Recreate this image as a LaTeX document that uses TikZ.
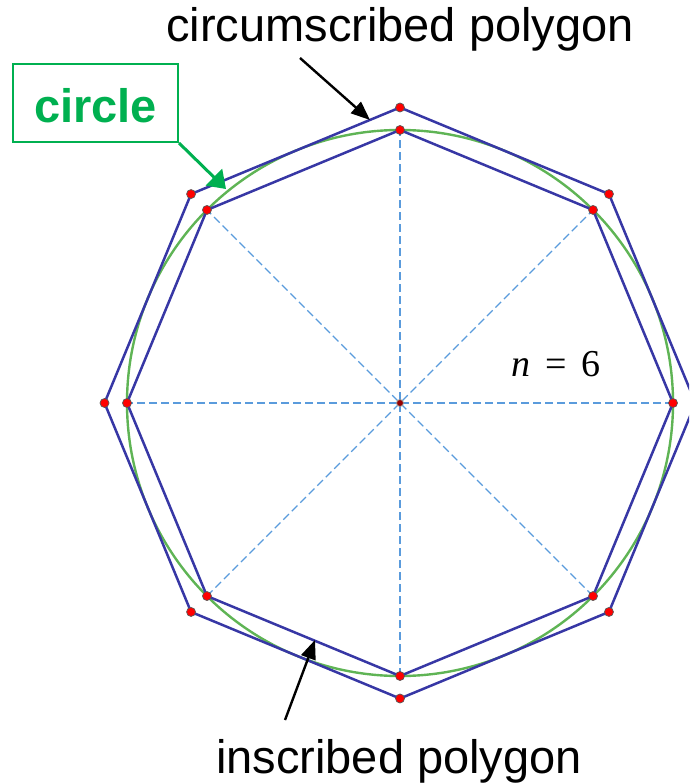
\documentclass[tikz,border=0pt]{standalone}
\usepackage{fontspec}
\setmainfont{Liberation Sans}
\newfontfamily\timesfont{Liberation Serif}
\usetikzlibrary{arrows.meta,calc}
\definecolor{polyblue}{RGB}{55,55,165}
\definecolor{circgreen}{RGB}{95,180,85}
\definecolor{boxgreen}{RGB}{0,176,80}
\definecolor{rayblue}{RGB}{90,155,220}
\tikzset{
  poly/.style={polyblue,line width=2.5pt,line join=round},
  ray/.style={rayblue,line width=1.1pt,dash pattern=on 8pt off 4pt},
  vdot/.style={fill=red,draw=black!65,line width=0.7pt},
  lbl/.style={font=\fontsize{47}{50}\selectfont,inner sep=0pt,anchor=base},
  pointer/.style={black,line width=2.4pt,-{Triangle[length=19pt,width=15pt]}}
}

\begin{document}
\begin{tikzpicture}[x=1pt,y=-1pt]
  \useasboundingbox (0,0) rectangle (689,783);
  \clip (0,0) rectangle (689,783);
  \coordinate (C) at (400,403);
  \foreach \k in {0,...,7}
    {\coordinate (i\k) at ($(C)+(\k*45:273)$);
     \coordinate (o\k) at ($(C)+(\k*45:295.5)$);}
  % dashed diameters
  \foreach \k in {0,...,3}
    {\pgfmathtruncatemacro\j{\k+4}
     \draw[ray] (i\k) -- (i\j);}
  \draw[circgreen,line width=2.4pt] (C) circle (273pt);
  \draw[poly] (i0) \foreach \k in {1,...,7}{-- (i\k)} -- cycle;
  \draw[poly] (o0) \foreach \k in {1,...,7}{-- (o\k)} -- cycle;
  \foreach \k in {0,...,7}
    {\draw[vdot] (i\k) circle (4.5pt);
     \draw[vdot] (o\k) circle (4.5pt);}
  \draw[fill=red!60!black,draw=gray!80,line width=0.8pt] (C) circle (3.5pt);

  \node[lbl] (circum) at (400,42) {circumscribed polygon};
  \node[lbl] (insc) at (399,773) {inscribed polygon};
  \node[font=\timesfont\fontsize{38}{40}\selectfont,inner sep=0pt,anchor=base] (nlab) at (556,376)
        {\textit{n}\hspace{15pt}=\hspace{15pt}6};
  \node[draw=boxgreen,line width=2pt,text=boxgreen,font=\bfseries\fontsize{47}{50}\selectfont,
        minimum width=165pt,minimum height=78pt,inner sep=0pt,text height=40pt,text depth=0pt]
        (circbox) at (95.5,103) {circle};

  \coordinate (cs) at (300,58);
  \coordinate (ct) at (370,120);
  \coordinate (is) at (285,720);
  \coordinate (it) at (315,640);
  \coordinate (gt) at (226,189);
  \draw[pointer] (cs) -- (ct);
  \draw[pointer] (is) -- (it);
  \draw[boxgreen,line width=3pt,-{Triangle[length=17pt,width=23pt]}] (circbox.south east) -- (gt);
\end{tikzpicture}
\end{document}
